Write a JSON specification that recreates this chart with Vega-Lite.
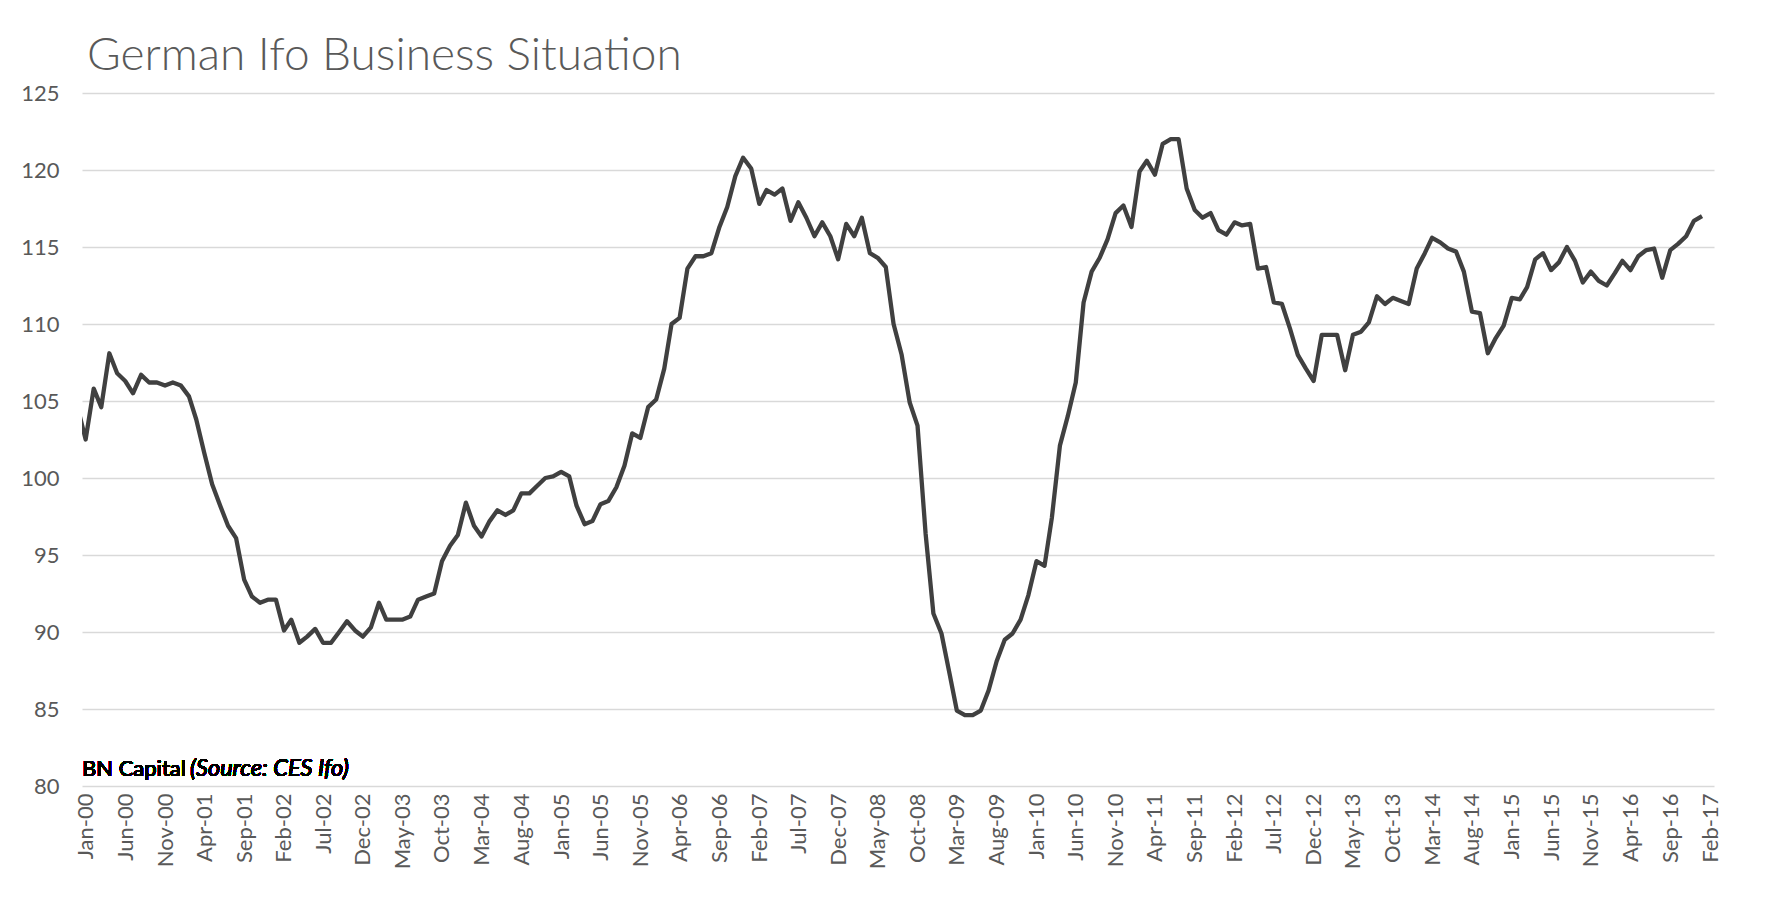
{
  "$schema": "https://vega.github.io/schema/vega-lite/v6.json",
  "width": 1632,
  "height": 693,
  "autosize": {"type": "none"},
  "padding": {"left": 82, "top": 93, "right": 71, "bottom": 112},
  "background": "white",
  "title": {
    "text": "German Ifo Business Situation",
    "anchor": "start",
    "frame": "group",
    "font": "Lato",
    "fontSize": 46,
    "fontWeight": 300,
    "color": "#595959",
    "offset": 2,
    "dx": 5
  },
  "data": {
    "values": [
      {"date": "1999-12-01", "value": 104.6},
      {"date": "2000-01-01", "value": 102.5},
      {"date": "2000-02-01", "value": 105.8},
      {"date": "2000-03-01", "value": 104.6},
      {"date": "2000-04-01", "value": 108.1},
      {"date": "2000-05-01", "value": 106.8},
      {"date": "2000-06-01", "value": 106.3},
      {"date": "2000-07-01", "value": 105.5},
      {"date": "2000-08-01", "value": 106.7},
      {"date": "2000-09-01", "value": 106.2},
      {"date": "2000-10-01", "value": 106.2},
      {"date": "2000-11-01", "value": 106.0},
      {"date": "2000-12-01", "value": 106.2},
      {"date": "2001-01-01", "value": 106.0},
      {"date": "2001-02-01", "value": 105.3},
      {"date": "2001-03-01", "value": 103.8},
      {"date": "2001-04-01", "value": 101.6},
      {"date": "2001-05-01", "value": 99.6},
      {"date": "2001-06-01", "value": 98.2},
      {"date": "2001-07-01", "value": 96.9},
      {"date": "2001-08-01", "value": 96.1},
      {"date": "2001-09-01", "value": 93.4},
      {"date": "2001-10-01", "value": 92.3},
      {"date": "2001-11-01", "value": 91.9},
      {"date": "2001-12-01", "value": 92.1},
      {"date": "2002-01-01", "value": 92.1},
      {"date": "2002-02-01", "value": 90.1},
      {"date": "2002-03-01", "value": 90.8},
      {"date": "2002-04-01", "value": 89.3},
      {"date": "2002-05-01", "value": 89.7},
      {"date": "2002-06-01", "value": 90.2},
      {"date": "2002-07-01", "value": 89.3},
      {"date": "2002-08-01", "value": 89.3},
      {"date": "2002-09-01", "value": 90.0},
      {"date": "2002-10-01", "value": 90.7},
      {"date": "2002-11-01", "value": 90.1},
      {"date": "2002-12-01", "value": 89.7},
      {"date": "2003-01-01", "value": 90.3},
      {"date": "2003-02-01", "value": 91.9},
      {"date": "2003-03-01", "value": 90.8},
      {"date": "2003-04-01", "value": 90.8},
      {"date": "2003-05-01", "value": 90.8},
      {"date": "2003-06-01", "value": 91.0},
      {"date": "2003-07-01", "value": 92.1},
      {"date": "2003-08-01", "value": 92.3},
      {"date": "2003-09-01", "value": 92.5},
      {"date": "2003-10-01", "value": 94.6},
      {"date": "2003-11-01", "value": 95.6},
      {"date": "2003-12-01", "value": 96.3},
      {"date": "2004-01-01", "value": 98.4},
      {"date": "2004-02-01", "value": 96.9},
      {"date": "2004-03-01", "value": 96.2},
      {"date": "2004-04-01", "value": 97.2},
      {"date": "2004-05-01", "value": 97.9},
      {"date": "2004-06-01", "value": 97.6},
      {"date": "2004-07-01", "value": 97.9},
      {"date": "2004-08-01", "value": 99.0},
      {"date": "2004-09-01", "value": 99.0},
      {"date": "2004-10-01", "value": 99.5},
      {"date": "2004-11-01", "value": 100.0},
      {"date": "2004-12-01", "value": 100.1},
      {"date": "2005-01-01", "value": 100.4},
      {"date": "2005-02-01", "value": 100.1},
      {"date": "2005-03-01", "value": 98.2},
      {"date": "2005-04-01", "value": 97.0},
      {"date": "2005-05-01", "value": 97.2},
      {"date": "2005-06-01", "value": 98.3},
      {"date": "2005-07-01", "value": 98.5},
      {"date": "2005-08-01", "value": 99.4},
      {"date": "2005-09-01", "value": 100.8},
      {"date": "2005-10-01", "value": 102.9},
      {"date": "2005-11-01", "value": 102.6},
      {"date": "2005-12-01", "value": 104.6},
      {"date": "2006-01-01", "value": 105.1},
      {"date": "2006-02-01", "value": 107.1},
      {"date": "2006-03-01", "value": 110.0},
      {"date": "2006-04-01", "value": 110.4},
      {"date": "2006-05-01", "value": 113.6},
      {"date": "2006-06-01", "value": 114.4},
      {"date": "2006-07-01", "value": 114.4},
      {"date": "2006-08-01", "value": 114.6},
      {"date": "2006-09-01", "value": 116.3},
      {"date": "2006-10-01", "value": 117.6},
      {"date": "2006-11-01", "value": 119.6},
      {"date": "2006-12-01", "value": 120.8},
      {"date": "2007-01-01", "value": 120.1},
      {"date": "2007-02-01", "value": 117.8},
      {"date": "2007-03-01", "value": 118.7},
      {"date": "2007-04-01", "value": 118.4},
      {"date": "2007-05-01", "value": 118.8},
      {"date": "2007-06-01", "value": 116.7},
      {"date": "2007-07-01", "value": 117.9},
      {"date": "2007-08-01", "value": 116.9},
      {"date": "2007-09-01", "value": 115.7},
      {"date": "2007-10-01", "value": 116.6},
      {"date": "2007-11-01", "value": 115.7},
      {"date": "2007-12-01", "value": 114.2},
      {"date": "2008-01-01", "value": 116.5},
      {"date": "2008-02-01", "value": 115.7},
      {"date": "2008-03-01", "value": 116.9},
      {"date": "2008-04-01", "value": 114.6},
      {"date": "2008-05-01", "value": 114.3},
      {"date": "2008-06-01", "value": 113.7},
      {"date": "2008-07-01", "value": 110.0},
      {"date": "2008-08-01", "value": 108.0},
      {"date": "2008-09-01", "value": 104.9},
      {"date": "2008-10-01", "value": 103.4},
      {"date": "2008-11-01", "value": 96.4},
      {"date": "2008-12-01", "value": 91.2},
      {"date": "2009-01-01", "value": 89.9},
      {"date": "2009-02-01", "value": 87.3},
      {"date": "2009-03-01", "value": 84.9},
      {"date": "2009-04-01", "value": 84.6},
      {"date": "2009-05-01", "value": 84.6},
      {"date": "2009-06-01", "value": 84.9},
      {"date": "2009-07-01", "value": 86.2},
      {"date": "2009-08-01", "value": 88.1},
      {"date": "2009-09-01", "value": 89.5},
      {"date": "2009-10-01", "value": 89.9},
      {"date": "2009-11-01", "value": 90.8},
      {"date": "2009-12-01", "value": 92.4},
      {"date": "2010-01-01", "value": 94.6},
      {"date": "2010-02-01", "value": 94.3},
      {"date": "2010-03-01", "value": 97.4},
      {"date": "2010-04-01", "value": 102.1},
      {"date": "2010-05-01", "value": 104.0},
      {"date": "2010-06-01", "value": 106.2},
      {"date": "2010-07-01", "value": 111.4},
      {"date": "2010-08-01", "value": 113.4},
      {"date": "2010-09-01", "value": 114.3},
      {"date": "2010-10-01", "value": 115.5},
      {"date": "2010-11-01", "value": 117.2},
      {"date": "2010-12-01", "value": 117.7},
      {"date": "2011-01-01", "value": 116.3},
      {"date": "2011-02-01", "value": 119.9},
      {"date": "2011-03-01", "value": 120.6},
      {"date": "2011-04-01", "value": 119.7},
      {"date": "2011-05-01", "value": 121.7},
      {"date": "2011-06-01", "value": 122.0},
      {"date": "2011-07-01", "value": 122.0},
      {"date": "2011-08-01", "value": 118.8},
      {"date": "2011-09-01", "value": 117.4},
      {"date": "2011-10-01", "value": 116.9},
      {"date": "2011-11-01", "value": 117.2},
      {"date": "2011-12-01", "value": 116.1},
      {"date": "2012-01-01", "value": 115.8},
      {"date": "2012-02-01", "value": 116.6},
      {"date": "2012-03-01", "value": 116.4},
      {"date": "2012-04-01", "value": 116.5},
      {"date": "2012-05-01", "value": 113.6},
      {"date": "2012-06-01", "value": 113.7},
      {"date": "2012-07-01", "value": 111.4},
      {"date": "2012-08-01", "value": 111.3},
      {"date": "2012-09-01", "value": 109.7},
      {"date": "2012-10-01", "value": 108.0},
      {"date": "2012-11-01", "value": 107.1},
      {"date": "2012-12-01", "value": 106.3},
      {"date": "2013-01-01", "value": 109.3},
      {"date": "2013-02-01", "value": 109.3},
      {"date": "2013-03-01", "value": 109.3},
      {"date": "2013-04-01", "value": 107.0},
      {"date": "2013-05-01", "value": 109.3},
      {"date": "2013-06-01", "value": 109.5},
      {"date": "2013-07-01", "value": 110.1},
      {"date": "2013-08-01", "value": 111.8},
      {"date": "2013-09-01", "value": 111.3},
      {"date": "2013-10-01", "value": 111.7},
      {"date": "2013-11-01", "value": 111.5},
      {"date": "2013-12-01", "value": 111.3},
      {"date": "2014-01-01", "value": 113.6},
      {"date": "2014-02-01", "value": 114.6},
      {"date": "2014-03-01", "value": 115.6},
      {"date": "2014-04-01", "value": 115.3},
      {"date": "2014-05-01", "value": 114.9},
      {"date": "2014-06-01", "value": 114.7},
      {"date": "2014-07-01", "value": 113.4},
      {"date": "2014-08-01", "value": 110.8},
      {"date": "2014-09-01", "value": 110.7},
      {"date": "2014-10-01", "value": 108.1},
      {"date": "2014-11-01", "value": 109.1},
      {"date": "2014-12-01", "value": 109.9},
      {"date": "2015-01-01", "value": 111.7},
      {"date": "2015-02-01", "value": 111.6},
      {"date": "2015-03-01", "value": 112.4},
      {"date": "2015-04-01", "value": 114.2},
      {"date": "2015-05-01", "value": 114.6},
      {"date": "2015-06-01", "value": 113.5},
      {"date": "2015-07-01", "value": 114.0},
      {"date": "2015-08-01", "value": 115.0},
      {"date": "2015-09-01", "value": 114.1},
      {"date": "2015-10-01", "value": 112.7},
      {"date": "2015-11-01", "value": 113.4},
      {"date": "2015-12-01", "value": 112.8},
      {"date": "2016-01-01", "value": 112.5},
      {"date": "2016-02-01", "value": 113.3},
      {"date": "2016-03-01", "value": 114.1},
      {"date": "2016-04-01", "value": 113.5},
      {"date": "2016-05-01", "value": 114.4},
      {"date": "2016-06-01", "value": 114.8},
      {"date": "2016-07-01", "value": 114.9},
      {"date": "2016-08-01", "value": 113.0},
      {"date": "2016-09-01", "value": 114.8},
      {"date": "2016-10-01", "value": 115.2},
      {"date": "2016-11-01", "value": 115.7},
      {"date": "2016-12-01", "value": 116.7},
      {"date": "2017-01-01", "value": 117.0}
    ]
  },
  "layer": [
    {
      "mark": {"type": "line", "color": "#404040", "strokeWidth": 4.3, "strokeJoin": "round", "strokeCap": "butt", "clip": true},
      "encoding": {
        "x": {
          "field": "date",
          "type": "temporal",
          "scale": {
            "type": "utc",
            "domain": [
              {"year": 1999, "month": 12, "date": 18, "utc": true},
              {"year": 2017, "month": 2, "date": 16, "utc": true}
            ]
          },
          "axis": {
            "title": null,
            "format": "%b-%y",
            "tickCount": 100,
            "labelAngle": -90,
            "labelFont": "Lato",
            "labelFontSize": 22,
            "labelColor": "#595959",
            "labelPadding": 7,
            "labelOverlap": false,
            "labelFlush": false,
            "ticks": false,
            "domain": false,
            "grid": false,
            "values": [
              {"year": 2000, "month": 1, "date": 1, "utc": true},
              {"year": 2000, "month": 6, "date": 1, "utc": true},
              {"year": 2000, "month": 11, "date": 1, "utc": true},
              {"year": 2001, "month": 4, "date": 1, "utc": true},
              {"year": 2001, "month": 9, "date": 1, "utc": true},
              {"year": 2002, "month": 2, "date": 1, "utc": true},
              {"year": 2002, "month": 7, "date": 1, "utc": true},
              {"year": 2002, "month": 12, "date": 1, "utc": true},
              {"year": 2003, "month": 5, "date": 1, "utc": true},
              {"year": 2003, "month": 10, "date": 1, "utc": true},
              {"year": 2004, "month": 3, "date": 1, "utc": true},
              {"year": 2004, "month": 8, "date": 1, "utc": true},
              {"year": 2005, "month": 1, "date": 1, "utc": true},
              {"year": 2005, "month": 6, "date": 1, "utc": true},
              {"year": 2005, "month": 11, "date": 1, "utc": true},
              {"year": 2006, "month": 4, "date": 1, "utc": true},
              {"year": 2006, "month": 9, "date": 1, "utc": true},
              {"year": 2007, "month": 2, "date": 1, "utc": true},
              {"year": 2007, "month": 7, "date": 1, "utc": true},
              {"year": 2007, "month": 12, "date": 1, "utc": true},
              {"year": 2008, "month": 5, "date": 1, "utc": true},
              {"year": 2008, "month": 10, "date": 1, "utc": true},
              {"year": 2009, "month": 3, "date": 1, "utc": true},
              {"year": 2009, "month": 8, "date": 1, "utc": true},
              {"year": 2010, "month": 1, "date": 1, "utc": true},
              {"year": 2010, "month": 6, "date": 1, "utc": true},
              {"year": 2010, "month": 11, "date": 1, "utc": true},
              {"year": 2011, "month": 4, "date": 1, "utc": true},
              {"year": 2011, "month": 9, "date": 1, "utc": true},
              {"year": 2012, "month": 2, "date": 1, "utc": true},
              {"year": 2012, "month": 7, "date": 1, "utc": true},
              {"year": 2012, "month": 12, "date": 1, "utc": true},
              {"year": 2013, "month": 5, "date": 1, "utc": true},
              {"year": 2013, "month": 10, "date": 1, "utc": true},
              {"year": 2014, "month": 3, "date": 1, "utc": true},
              {"year": 2014, "month": 8, "date": 1, "utc": true},
              {"year": 2015, "month": 1, "date": 1, "utc": true},
              {"year": 2015, "month": 6, "date": 1, "utc": true},
              {"year": 2015, "month": 11, "date": 1, "utc": true},
              {"year": 2016, "month": 4, "date": 1, "utc": true},
              {"year": 2016, "month": 9, "date": 1, "utc": true},
              {"year": 2017, "month": 2, "date": 1, "utc": true}
            ]
          }
        },
        "y": {
          "field": "value",
          "type": "quantitative",
          "scale": {"domain": [80, 125], "nice": false, "zero": false},
          "axis": {
            "title": null,
            "values": [80, 85, 90, 95, 100, 105, 110, 115, 120, 125],
            "grid": true,
            "gridColor": "#d9d9d9",
            "gridWidth": 1.3,
            "domain": false,
            "ticks": false,
            "labelFont": "Lato",
            "labelFontSize": 22,
            "labelColor": "#595959",
            "labelPadding": 23
          }
        }
      }
    },
    {
      "mark": {"type": "text", "text": "BN Capital", "align": "left", "baseline": "alphabetic", "font": "Lato", "fontSize": 22, "fontWeight": "normal", "color": "#000000", "dy": -10},
      "encoding": {
        "x": {"datum": {"year": 1999, "month": 12, "date": 18, "utc": true}, "type": "temporal"},
        "y": {"datum": 80, "type": "quantitative"}
      }
    },
    {
      "mark": {"type": "text", "text": "(Source: CES Ifo)", "align": "left", "baseline": "alphabetic", "font": "Lato", "fontSize": 23.5, "fontWeight": "normal", "fontStyle": "italic", "color": "#000000", "dx": 108, "dy": -10},
      "encoding": {
        "x": {"datum": {"year": 1999, "month": 12, "date": 18, "utc": true}, "type": "temporal"},
        "y": {"datum": 80, "type": "quantitative"}
      }
    }
  ],
  "config": {
    "view": {"stroke": null},
    "font": "Lato"
  }
}
